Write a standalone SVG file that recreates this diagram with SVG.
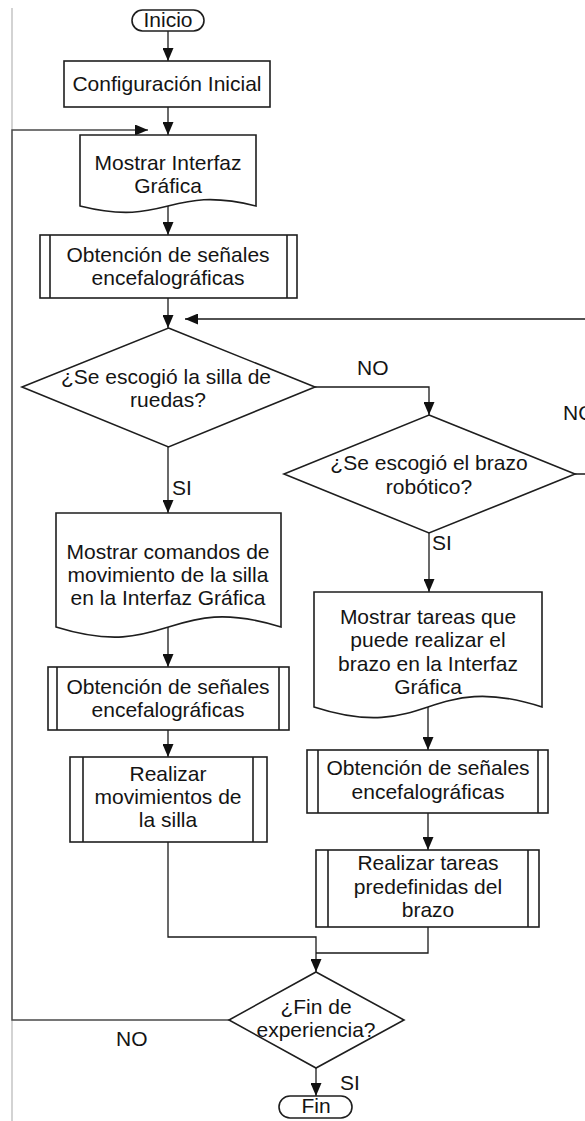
<svg xmlns="http://www.w3.org/2000/svg" width="585" height="1121" viewBox="0 0 585 1121">
  <style>
    .shape { fill: #ffffff; stroke: #1e1e1e; stroke-width: 1.6; }
    .bar { fill: none; stroke: #1e1e1e; stroke-width: 1.6; }
    .conn { fill: none; stroke: #1a1a1a; stroke-width: 1.3; }
    .loop { fill: none; stroke: #4a4a4a; stroke-width: 1.4; }
    .t { font-family: "Liberation Sans", Arial, sans-serif; font-size: 21px; fill: #141414; text-anchor: middle; }
    .lbl { font-family: "Liberation Sans", Arial, sans-serif; font-size: 21px; fill: #141414; }
  </style>
  <defs>
    <marker id="arrow" markerUnits="userSpaceOnUse" markerWidth="13" markerHeight="11" refX="13" refY="5.5" orient="auto">
      <path d="M0,0 L13,5.5 L0,11 Z" fill="#111111"/>
    </marker>
  </defs>

  <rect width="585" height="1121" fill="#ffffff"/>
  <!-- page margin -->
  <line x1="12" y1="8" x2="12" y2="1121" stroke="#c4c4c4" stroke-width="1.5"/>

  <g id="connectors">
    <path class="conn" d="M168,31 V61" marker-end="url(#arrow)"/>
    <path class="conn" d="M168,107 V135" marker-end="url(#arrow)"/>
    <path class="loop" d="M229,1020 H12 V130 H148" marker-end="url(#arrow)"/>
    <path class="conn" d="M168,206 V235" marker-end="url(#arrow)"/>
    <path class="conn" d="M168,298 V328" marker-end="url(#arrow)"/>
    <path class="conn" d="M315,387 H429 V415" marker-end="url(#arrow)"/>
    <path class="conn" d="M168,447 V513" marker-end="url(#arrow)"/>
    <path class="conn" d="M168,627 V667" marker-end="url(#arrow)"/>
    <path class="conn" d="M168,730 V757" marker-end="url(#arrow)"/>
    <path class="conn" d="M168,842 V937 H316 V972" marker-end="url(#arrow)"/>
    <path class="conn" d="M429,533 V592" marker-end="url(#arrow)"/>
    <path class="conn" d="M428,707 V750" marker-end="url(#arrow)"/>
    <path class="conn" d="M428,813 V850" marker-end="url(#arrow)"/>
    <path class="conn" d="M428,927 V953 H316"/>
    <path class="conn" d="M575,474 H600 V319 H185" marker-end="url(#arrow)"/>
    <path class="conn" d="M316,1068 V1096" marker-end="url(#arrow)"/>
    <text class="lbl" x="357" y="375">NO</text>
    <text class="lbl" x="563" y="420">NO</text>
    <text class="lbl" x="172" y="495">SI</text>
    <text class="lbl" x="432" y="550">SI</text>
    <text class="lbl" x="116" y="1046">NO</text>
    <text class="lbl" x="340" y="1090">SI</text>
  </g>

  <g id="inicio">
    <rect class="shape" x="132" y="10" width="72" height="21" rx="10.5"/>
    <text class="t" x="168" y="27">Inicio</text>
  </g>

  <g id="configuracion">
    <rect class="shape" x="64" y="61" width="206" height="46"/>
    <text class="t" x="167" y="91">Configuración Inicial</text>
  </g>

  <g id="interfaz">
    <path class="shape" d="M80,135 H256 V206 C168,184 168,228 80,206 Z"/>
    <text class="t" x="168" y="170">Mostrar Interfaz</text>
    <text class="t" x="168" y="193">Gráfica</text>
  </g>

  <g id="senales-1">
    <rect class="shape" x="40" y="235" width="257" height="63"/>
    <path class="bar" d="M50,235 V298 M287,235 V298"/>
    <text class="t" x="168" y="262">Obtención de señales</text>
    <text class="t" x="168" y="285">encefalográficas</text>
  </g>

  <g id="silla-decision">
    <polygon class="shape" points="168.5,328 315,387 168.5,447 22,387"/>
    <text class="t" x="166" y="384">¿Se escogió la silla de</text>
    <text class="t" x="168" y="407">ruedas?</text>
  </g>

  <g id="brazo-decision">
    <polygon class="shape" points="429,415 575,474 429,533 284,474"/>
    <text class="t" x="429" y="470">¿Se escogió el brazo</text>
    <text class="t" x="429" y="494">robótico?</text>
  </g>

  <g id="comandos-silla">
    <path class="shape" d="M56,513 H281 V627 C168.5,592 168.5,662 56,627 Z"/>
    <text class="t" x="168" y="559">Mostrar comandos de</text>
    <text class="t" x="168" y="582">movimiento de la silla</text>
    <text class="t" x="168" y="605">en la Interfaz Gráfica</text>
  </g>

  <g id="senales-2">
    <rect class="shape" x="48" y="667" width="241" height="63"/>
    <path class="bar" d="M57,667 V730 M279,667 V730"/>
    <text class="t" x="168" y="694">Obtención de señales</text>
    <text class="t" x="168" y="717">encefalográficas</text>
  </g>

  <g id="movimientos-silla">
    <rect class="shape" x="70" y="757" width="197" height="85"/>
    <path class="bar" d="M83,757 V842 M253,757 V842"/>
    <text class="t" x="168" y="781">Realizar</text>
    <text class="t" x="168" y="804">movimientos de</text>
    <text class="t" x="168" y="827">la silla</text>
  </g>

  <g id="tareas-brazo">
    <path class="shape" d="M314,592 H542 V707 C428,670 428,744 314,707 Z"/>
    <text class="t" x="428" y="624">Mostrar tareas que</text>
    <text class="t" x="428" y="647">puede realizar el</text>
    <text class="t" x="428" y="671">brazo en la Interfaz</text>
    <text class="t" x="428" y="694">Gráfica</text>
  </g>

  <g id="senales-3">
    <rect class="shape" x="307" y="750" width="241" height="63"/>
    <path class="bar" d="M318,750 V813 M538,750 V813"/>
    <text class="t" x="428" y="775">Obtención de señales</text>
    <text class="t" x="428" y="799">encefalográficas</text>
  </g>

  <g id="tareas-predefinidas">
    <rect class="shape" x="316" y="850" width="223" height="77"/>
    <path class="bar" d="M328,850 V927 M528,850 V927"/>
    <text class="t" x="428" y="870">Realizar tareas</text>
    <text class="t" x="428" y="894">predefinidas del</text>
    <text class="t" x="428" y="917">brazo</text>
  </g>

  <g id="fin-decision">
    <polygon class="shape" points="316,972 404,1020 316,1068 229,1020"/>
    <text class="t" x="316" y="1014">¿Fin de</text>
    <text class="t" x="316" y="1037">experiencia?</text>
  </g>

  <g id="fin">
    <rect class="shape" x="279" y="1096" width="73" height="22" rx="11"/>
    <text class="t" x="316" y="1113">Fin</text>
  </g>
</svg>
